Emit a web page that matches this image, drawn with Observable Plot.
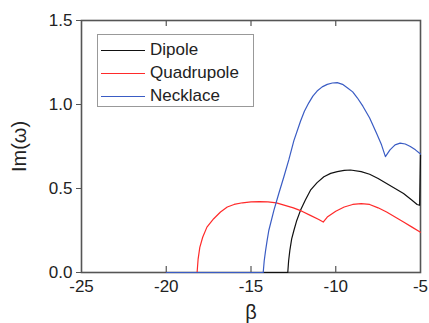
<!DOCTYPE html>
<html><head><meta charset="utf-8">
<script src="https://cdn.jsdelivr.net/npm/d3@7"></script>
<script src="https://cdn.jsdelivr.net/npm/@observablehq/plot@0.6"></script>
<style>
body{margin:0;background:#fff;font-family:"Liberation Sans",Arial,sans-serif;}
#wrap{position:relative;width:429px;height:323px;}
#legend{position:absolute;left:97px;top:34px;width:157px;height:73px;border:1px solid #999;background:#fff;box-sizing:border-box;font-size:17px;color:#222;}
#legend .row{position:absolute;left:3px;height:20px;display:flex;align-items:center;}
#legend .sw{width:44px;height:0;border-top:1.5px solid;margin-right:5px;}
</style></head><body>
<div id="wrap"><div id="legend"></div></div>
<script>
const seriesNames = ["Dipole","Quadrupole","Necklace"];
const seriesColors = ["#111111","#ff2a2a","#3a5cc4"];
const xTicks = [-25,-20,-15,-10,-5];
const yTicks = [0,0.5,1.0,1.5];
const innerTicks = [-20,-15,-10];

const dipoleBeta = [-20,-12.83,-12.78,-12.71,-12.6,-12.47,-12.3,-12.08,-11.8,-11.49,-11.1,-10.7,-10.3,-9.91,-9.5,-9.13,-8.5,-8.0,-7.5,-7.0,-6.5,-6.0,-5.5,-5.2,-5.05,-5.0];
const dipoleIm   = [0,0,0.07,0.13,0.2,0.25,0.31,0.37,0.43,0.49,0.535,0.57,0.59,0.60,0.608,0.61,0.60,0.585,0.56,0.53,0.50,0.47,0.43,0.405,0.40,0.70];

const quadBeta = [-20,-18.18,-18.12,-18.02,-17.85,-17.6,-17.2,-16.8,-16.4,-16.0,-15.5,-15.0,-14.5,-14.0,-13.5,-13.0,-12.5,-12.0,-11.5,-11.0,-10.74,-10.5,-10.0,-9.5,-9.0,-8.5,-8.0,-7.5,-7.0,-6.5,-6.0,-5.5,-5.0];
const quadIm   = [0,0,0.08,0.15,0.21,0.27,0.32,0.36,0.39,0.405,0.415,0.42,0.422,0.42,0.414,0.40,0.385,0.365,0.34,0.315,0.30,0.33,0.365,0.39,0.405,0.41,0.405,0.385,0.36,0.33,0.30,0.27,0.24];

const neckBeta = [-20,-14.28,-14.22,-14.14,-14.05,-13.95,-13.65,-13.36,-13.06,-12.77,-12.47,-12.08,-11.85,-11.59,-11.35,-11.1,-10.8,-10.5,-10.2,-9.91,-9.6,-9.32,-9.0,-8.73,-8.4,-8.0,-7.6,-7.3,-7.07,-6.8,-6.5,-6.2,-5.9,-5.6,-5.3,-5.0];
const neckIm   = [0,0,0.07,0.13,0.19,0.25,0.37,0.47,0.57,0.67,0.785,0.90,0.96,1.01,1.05,1.08,1.105,1.12,1.128,1.13,1.12,1.10,1.075,1.04,0.99,0.92,0.83,0.76,0.69,0.73,0.76,0.77,0.765,0.75,0.73,0.705];

const toRows = (b, v, name) => b.map((x, i) => ({beta: x, im: v[i], series: name}));
const rows = [
  ...toRows(dipoleBeta, dipoleIm, seriesNames[0]),
  ...toRows(quadBeta, quadIm, seriesNames[1]),
  ...toRows(neckBeta, neckIm, seriesNames[2])
];

const chart = Plot.plot({
  width: 429, height: 323,
  marginLeft: 81, marginRight: 9, marginTop: 20, marginBottom: 51,
  style: {fontFamily: "Liberation Sans, Arial, sans-serif", fontSize: "17px", color: "#222", background: "#fff"},
  x: {domain: [-25, -5]},
  y: {domain: [0, 1.5]},
  color: {domain: seriesNames, range: seriesColors},
  marks: [
    Plot.axisX({ticks: xTicks, tickFormat: d => String(d), tickSize: 0, tickPadding: 7, label: "β", labelAnchor: "center", labelArrow: "none", labelOffset: 46, fontSize: 17}),
    Plot.axisY({ticks: yTicks, tickFormat: d3.format(".1f"), tickSize: 5, tickPadding: 4, label: "Im(ω)", labelAnchor: "center", labelArrow: "none", labelOffset: 70, fontSize: 17, stroke: "#555"}),
    Plot.ruleX(innerTicks, {x: d => d, y1: 0, y2: 0.035, stroke: "#555", strokeWidth: 1.2}),
    Plot.ruleX(innerTicks, {x: d => d, y1: 1.5, y2: 1.465, stroke: "#555", strokeWidth: 1.2}),
    Plot.frame({stroke: "#555", strokeWidth: 1.6}),
    Plot.line(rows, {x: "beta", y: "im", z: "series", stroke: "series", strokeWidth: 1.2})
  ]
});
chart.querySelectorAll('[aria-label="x-axis label"] text, [aria-label="y-axis label"] text').forEach(t => t.setAttribute("font-size", "20"));
document.getElementById("wrap").prepend(chart);

const lg = document.getElementById("legend");
seriesNames.forEach((n, i) => {
  const r = document.createElement("div");
  r.className = "row";
  r.style.top = (5 + i * 23) + "px";
  r.innerHTML = `<span class="sw" style="border-color:${seriesColors[i]}"></span><span>${n}</span>`;
  lg.appendChild(r);
});
</script>
</body></html>
